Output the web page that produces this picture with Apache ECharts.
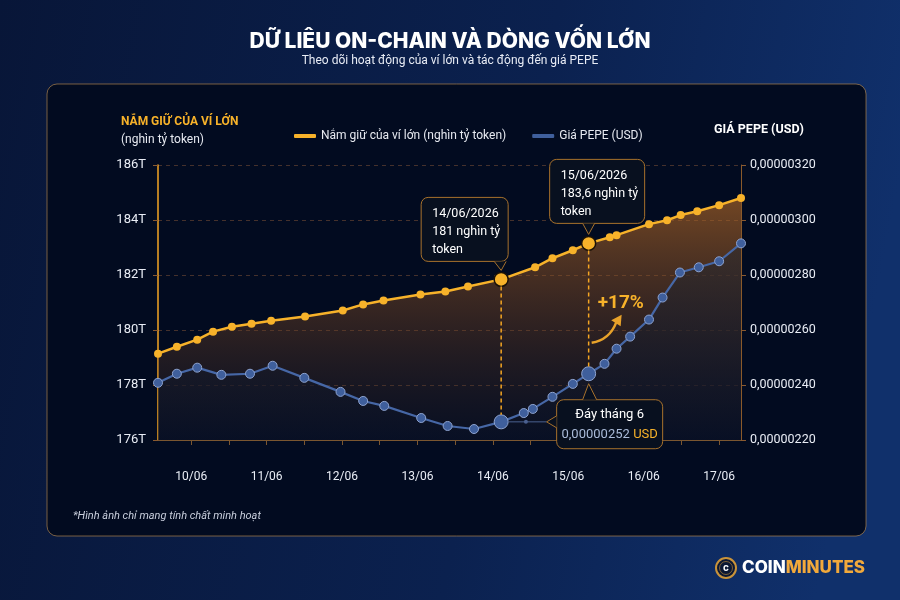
<!DOCTYPE html>
<html>
<head>
<meta charset="utf-8">
<title>Dữ liệu on-chain PEPE</title>
<script src="https://cdn.jsdelivr.net/npm/echarts@6/dist/echarts.min.js"></script>
<style>
  html, body { margin: 0; padding: 0; background: #081636; }
  #main { width: 900px; height: 600px; }
</style>
</head>
<body>
<div id="main"></div>
<script>
// trục x: ngày trong tháng 6 (số thập phân = phần trong ngày)
var holdDays = [9.56, 9.81, 10.08, 10.29, 10.54, 10.80, 11.06, 11.51, 12.01, 12.28, 12.55, 13.04, 13.37, 13.67,
  14.11, 14.56, 14.79, 15.06, 15.27, 15.55, 15.64, 16.07, 16.31, 16.49, 16.71, 17.00, 17.29];
// nắm giữ của ví lớn (nghìn tỷ token)
var holdValues = [179.14, 179.39, 179.65, 179.94, 180.12, 180.23, 180.34, 180.49, 180.71, 180.93, 181.07, 181.29, 181.40, 181.58,
  181.84, 182.28, 182.61, 182.90, 183.15, 183.37, 183.45, 183.85, 183.99, 184.18, 184.32, 184.54, 184.80];

var priceDays = [9.56, 9.81, 10.08, 10.40, 10.78, 11.08, 11.50, 11.98, 12.28, 12.56, 13.05, 13.40, 13.75, 14.11,
  14.41, 14.53, 14.79, 15.06, 15.27, 15.48, 15.64, 15.82, 16.07, 16.25, 16.48, 16.73, 17.00, 17.29];
// giá PEPE (USD)
var priceValues = [0.000002408, 0.000002441, 0.000002463, 0.000002437, 0.000002441, 0.000002470, 0.000002426,
  0.000002375, 0.000002342, 0.000002324, 0.000002280, 0.000002251, 0.000002240, 0.000002266, 0.000002298,
  0.000002313, 0.000002357, 0.000002404, 0.000002441, 0.000002477, 0.000002532, 0.000002576, 0.000002638,
  0.000002718, 0.000002809, 0.000002828, 0.000002850, 0.000002915];

var dayTicks = [10, 11, 12, 13, 14, 15, 16, 17];
var dayLabels = ['10/06', '11/06', '12/06', '13/06', '14/06', '15/06', '16/06', '17/06'];
var halfDayTicks = [10, 10.5, 11, 11.5, 12, 12.5, 13, 13.5, 14, 14.5, 15, 15.5, 16, 16.5, 17];

// các điểm được chú thích
var holdMarks = [14, 18];
var priceMarks = [13, 18];
var noteHold1 = ['14/06/2026', '181 nghìn tỷ', 'token'];
var noteHold2 = ['15/06/2026', '183,6 nghìn tỷ', 'token'];
var noteBottom = ['Đáy tháng 6', '0,00000252', 'USD'];
var notePct = '+17%';

var ORANGE = '#f7b22a';
var BLUE = '#3f5f9c';
var FONT = 'Roboto';

var chart = echarts.init(document.getElementById('main'));

var option = {
  backgroundColor: 'transparent',
  textStyle: { fontFamily: FONT },
  title: {
    text: 'DỮ LIÊU ON-CHAIN VÀ DÒNG VỐN LỚN',
    subtext: 'Theo dõi hoạt động của ví lớn và tác động đến giá PEPE',
    left: 'center',
    top: 26,
    itemGap: 3,
    textStyle: { fontFamily: 'Inter', fontSize: 21, fontWeight: 800, color: '#ffffff' },
    subtextStyle: { fontFamily: FONT, fontSize: 12, color: '#e8ecf5' }
  },
  legend: {
    left: 289,
    top: 125,
    itemWidth: 22,
    itemHeight: 4,
    itemGap: 26,
    icon: 'roundRect',
    itemStyle: { borderWidth: 0 },
    textStyle: { color: '#e6e9f0', fontSize: 12, fontFamily: FONT },
    data: ['Nắm giữ của ví lớn (nghìn tỷ token)', 'Giá PEPE (USD)']
  },
  grid: { left: 158, right: 159, top: 165, bottom: 160 },
  xAxis: {
    type: 'value',
    min: 9.56,
    max: 17.29,
    axisLine: { lineStyle: { color: '#7a5630', width: 1 } },
    axisTick: { show: true, length: 5, lineStyle: { color: '#7a5630' }, customValues: halfDayTicks },
    axisLabel: {
      color: '#e9edf5', fontSize: 12, margin: 31,
      customValues: dayTicks,
      formatter: function (v) { return dayLabels[dayTicks.indexOf(Math.round(v))] || ''; }
    },
    splitLine: { show: false }
  },
  yAxis: [{
    type: 'value',
    min: 176, max: 186, interval: 2,
    axisLine: { show: true, lineStyle: { color: '#f5a623', width: 1.5 } },
    axisTick: { show: true, length: 5, lineStyle: { color: '#8a5a30' } },
    axisLabel: { color: '#e9edf5', fontSize: 13, margin: 12, formatter: '{value}T' },
    splitLine: { lineStyle: { color: 'rgba(150,95,60,0.45)', type: [4, 4] } }
  }, {
    type: 'value',
    min: 0.0000022, max: 0.0000032, interval: 0.0000002,
    axisLine: { show: true, lineStyle: { color: '#8a5a2a', width: 1 } },
    axisTick: { show: true, length: 5, lineStyle: { color: '#8a5a30' } },
    axisLabel: {
      color: '#e9edf5', fontSize: 12.5, margin: 9,
      formatter: function (v) { return v.toFixed(8).replace('.', ','); }
    },
    splitLine: { show: false }
  }],
  series: [{
    name: 'Nắm giữ của ví lớn (nghìn tỷ token)',
    type: 'line',
    yAxisIndex: 0,
    color: ORANGE,
    z: 3,
    symbol: 'circle',
    data: holdDays.map(function (d, i) {
      var big = holdMarks.indexOf(i) >= 0;
      return {
        value: [d, holdValues[i]],
        symbolSize: big ? 14 : 8,
        itemStyle: big ? { borderColor: '#1b1208', borderWidth: 1.5 } : {}
      };
    }),
    lineStyle: { color: ORANGE, width: 2.5 },
    itemStyle: { color: ORANGE },
    areaStyle: {
      color: new echarts.graphic.LinearGradient(0, 0, 0, 1, [
        { offset: 0, color: 'rgba(180,105,38,0.9)' },
        { offset: 0.5, color: 'rgba(115,68,35,0.6)' },
        { offset: 1, color: 'rgba(30,28,40,0.35)' }
      ])
    }
  }, {
    name: 'Giá PEPE (USD)',
    type: 'line',
    yAxisIndex: 1,
    color: BLUE,
    z: 4,
    symbol: 'circle',
    data: priceDays.map(function (d, i) {
      var big = priceMarks.indexOf(i) >= 0;
      return { value: [d, priceValues[i]], symbolSize: big ? 14 : 9 };
    }),
    lineStyle: { color: '#4667a6', width: 2.2 },
    itemStyle: { color: BLUE, borderColor: '#8ea3cf', borderWidth: 1 },
    areaStyle: {
      color: new echarts.graphic.LinearGradient(0, 0, 0, 1, [
        { offset: 0, color: 'rgba(44,42,46,0.85)' },
        { offset: 1, color: 'rgba(8,16,38,0.85)' }
      ])
    }
  }]
};

chart.setOption(option);

// vị trí các điểm chú thích, lấy từ trục của chart
function holdPx(i) { return chart.convertToPixel({ xAxisIndex: 0, yAxisIndex: 0 }, [holdDays[i], holdValues[i]]); }
function pricePx(i) { return chart.convertToPixel({ xAxisIndex: 0, yAxisIndex: 1 }, [priceDays[i], priceValues[i]]); }
var h1 = holdPx(holdMarks[0]), h2 = holdPx(holdMarks[1]);
var p1 = pricePx(priceMarks[0]), p2 = pricePx(priceMarks[1]);

var BOX_FILL = '#08101f';
var BOX_LINE = '#a8722c';

function callout(x, y, w, h, base1, base2, tip) {
  return [
    { type: 'rect', z: 20, shape: { x: x, y: y, width: w, height: h, r: 7 },
      style: { fill: BOX_FILL, stroke: BOX_LINE, lineWidth: 1 } },
    { type: 'polygon', z: 21, shape: { points: [base1, tip, base2] }, style: { fill: BOX_FILL } },
    { type: 'polyline', z: 22, shape: { points: [base1, tip, base2] }, style: { stroke: BOX_LINE, lineWidth: 1, fill: null } }
  ];
}

var els = [];
// nền
els.push({ type: 'rect', z: -20, shape: { x: 0, y: 0, width: 900, height: 600 },
  style: { fill: new echarts.graphic.LinearGradient(0, 0, 1, 0.3, [
    { offset: 0, color: '#081638' }, { offset: 0.6, color: '#0b214f' }, { offset: 1, color: '#10306b' }]) } });
els.push({ type: 'rect', z: -19, shape: { x: 47, y: 84, width: 819, height: 452, r: 10 },
  style: { fill: '#020b20', stroke: 'rgba(196,146,80,0.6)', lineWidth: 1 } });

// tiêu đề các trục
els.push({ type: 'text', z: 10, x: 121, y: 116,
  style: { text: 'NẮM GIỮ CỦA VÍ LỚN', fill: ORANGE, font: 'bold 12px ' + FONT } });
els.push({ type: 'text', z: 10, x: 121, y: 134,
  style: { text: '(nghìn tỷ token)', fill: '#e6e9f0', font: '12px ' + FONT } });
els.push({ type: 'text', z: 10, x: 714, y: 123,
  style: { text: 'GIÁ PEPE (USD)', fill: '#ffffff', font: 'bold 12.5px ' + FONT } });

// đường gióng dọc
els.push({ type: 'line', z: 15, shape: { x1: h1[0], y1: h1[1] + 7, x2: p1[0], y2: p1[1] - 7 },
  style: { stroke: '#f5a623', lineWidth: 1.5, lineDash: [4, 3] } });
els.push({ type: 'line', z: 15, shape: { x1: h2[0], y1: h2[1] + 7, x2: p2[0], y2: p2[1] - 7 },
  style: { stroke: '#f5a623', lineWidth: 1.5, lineDash: [4, 3] } });

// chú thích 14/06
var b1 = { x: h1[0] - 80, y: h1[1] - 82, w: 87, h: 64 };
els = els.concat(callout(b1.x, b1.y, b1.w, b1.h,
  [h1[0] - 7, b1.y + b1.h], [h1[0] + 5, b1.y + b1.h], [h1[0], h1[1] - 9]));
els.push({ type: 'text', z: 23, x: b1.x + 11, y: b1.y + 7,
  style: { text: noteHold1.join('\n'), fill: '#ffffff', font: '12.5px ' + FONT, lineHeight: 18 } });

// chú thích 15/06
var b2 = { x: h2[0] - 39, y: h2[1] - 84, w: 95, h: 64 };
els = els.concat(callout(b2.x, b2.y, b2.w, b2.h,
  [h2[0] - 6, b2.y + b2.h], [h2[0] + 6, b2.y + b2.h], [h2[0], h2[1] - 9]));
els.push({ type: 'text', z: 23, x: b2.x + 11, y: b2.y + 7,
  style: { text: noteHold2.join('\n'), fill: '#ffffff', font: '12.5px ' + FONT, lineHeight: 18 } });

// chú thích đáy tháng 6
var b3 = { x: p2[0] - 32, y: p2[1] + 26, w: 106, h: 49 };
els.push({ type: 'line', z: 15, shape: { x1: p1[0] + 7, y1: p1[1], x2: b3.x - 10, y2: p1[1] },
  style: { stroke: '#4a6090', lineWidth: 1 } });
els.push({ type: 'circle', z: 15, shape: { cx: (p1[0] + b3.x) / 2 - 3, cy: p1[1], r: 2 },
  style: { fill: '#4a6090' } });
els = els.concat(callout(b3.x, b3.y, b3.w, b3.h,
  [p2[0] - 6, b3.y], [p2[0] + 8, b3.y], [p2[0], p2[1] + 10]));
els.push({ type: 'polygon', z: 21, shape: { points: [[b3.x, p1[1] - 6], [b3.x - 10, p1[1]], [b3.x, p1[1] + 6]] },
  style: { fill: BOX_FILL } });
els.push({ type: 'polyline', z: 22, shape: { points: [[b3.x, p1[1] - 6], [b3.x - 10, p1[1]], [b3.x, p1[1] + 6]] },
  style: { stroke: BOX_LINE, lineWidth: 1, fill: null } });
els.push({ type: 'text', z: 23, x: b3.x + b3.w / 2, y: b3.y + 9,
  style: { text: noteBottom[0], fill: '#ffffff', font: '13px ' + FONT, align: 'center' } });
els.push({ type: 'text', z: 23, x: b3.x + b3.w / 2, y: b3.y + 29,
  style: {
    text: '{b|' + noteBottom[1] + '} {o|' + noteBottom[2] + '}', align: 'center',
    rich: {
      b: { fill: '#aabbd9', font: '13px ' + FONT },
      o: { fill: ORANGE, font: '13px ' + FONT }
    }
  } });

// +17% và mũi tên
els.push({ type: 'text', z: 23, x: p2[0] + 9, y: p2[1] - 80,
  style: { text: notePct, fill: ORANGE, font: 'bold 19px ' + FONT } });
els.push({ type: 'bezierCurve', z: 23,
  shape: { x1: p2[0] + 3, y1: p2[1] - 31, cpx1: p2[0] + 21, cpy1: p2[1] - 34, x2: p2[0] + 27.6, y2: p2[1] - 51.4 },
  style: { stroke: '#e8a22a', lineWidth: 2.5, fill: null } });
els.push({ type: 'polygon', z: 23,
  shape: { points: [[p2[0] + 33, p2[1] - 59], [p2[0] + 32, p2[1] - 47.6], [p2[0] + 22.6, p2[1] - 53.6]] },
  style: { fill: '#e8a22a' } });

// ghi chú
els.push({ type: 'text', z: 10, x: 73, y: 511,
  style: { text: '*Hình ảnh chỉ mang tính chất minh hoạt', fill: '#c8cedc', font: 'italic 11px ' + FONT } });

// logo
els.push({ type: 'circle', z: 10, shape: { cx: 726, cy: 568, r: 10 },
  style: { fill: '#0b1733', stroke: '#c9933a', lineWidth: 2 } });
els.push({ type: 'circle', z: 10, shape: { cx: 726, cy: 568, r: 6.5 },
  style: { fill: '#0b1733', stroke: 'rgba(201,147,58,0.6)', lineWidth: 1 } });
els.push({ type: 'text', z: 11, x: 726, y: 568,
  style: { text: 'c', fill: '#ffffff', font: 'bold 10px Inter', align: 'center', verticalAlign: 'middle' } });
els.push({ type: 'text', z: 10, x: 742, y: 568,
  style: {
    text: '{w|COIN}{o|MINUTES}', verticalAlign: 'middle',
    rich: {
      w: { fill: '#ffffff', font: '800 17px Inter' },
      o: { fill: '#f2a93b', font: '800 17px Inter' }
    }
  } });

chart.setOption({ graphic: { elements: els } });
</script>
</body>
</html>
